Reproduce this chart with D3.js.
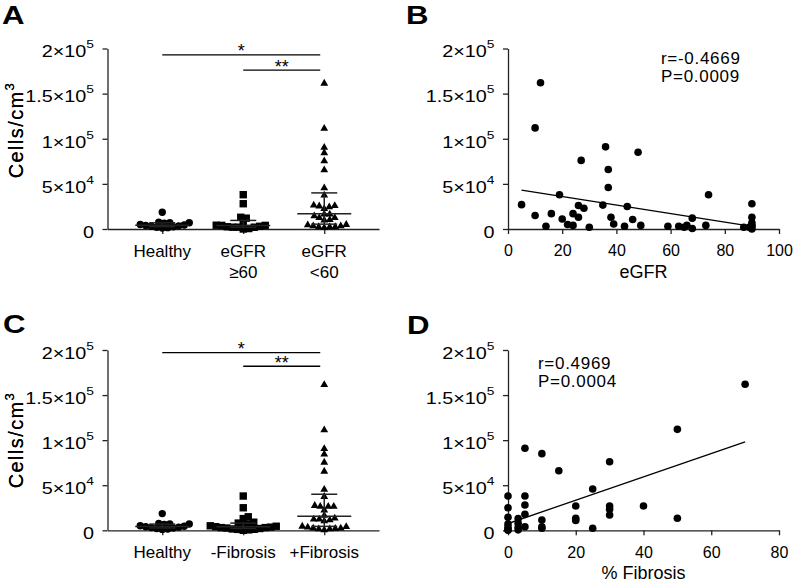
<!DOCTYPE html>
<html><head><meta charset="utf-8">
<script src="https://cdn.jsdelivr.net/npm/d3@7"></script>
<style>
html,body{margin:0;padding:0;background:#fff;}
svg{display:block;font-family:"Liberation Sans",Arial,Helvetica,sans-serif;}
</style></head><body>
<svg id="chart" width="796" height="585"></svg>
<script>
// ---------- DATA ----------
const yTickValues = [0, 50000, 100000, 150000, 200000];
const yTickMant = ["0", "5×10", "1×10", "1.5×10", "2×10"];
const yTickExp = ["", "4", "5", "5", "5"];

const catsA = ["Healthy", "eGFR ≥60", "eGFR <60"];
const catLinesA = [["Healthy"], ["eGFR", "≥60"], ["eGFR", "<60"]];
const catsC = ["Healthy", "-Fibrosis", "+Fibrosis"];
const catLinesC = [["Healthy"], ["-Fibrosis"], ["+Fibrosis"]];

const healthy = [18500, 7500, 7000, 7000, 6500, 5000, 4500, 4000, 3500, 3000, 2500, 2000, 1500, 1000];

// Panel B: eGFR vs cells/cm3
const bEgfr  = [5, 10, 10, 12, 14, 16, 19, 20, 22, 24, 24, 26, 26, 27, 28, 30, 35, 36, 37, 37, 38, 39, 43, 44, 46, 48, 49, 59,
                63, 65, 66, 68, 68, 73, 74, 87, 89, 90, 90, 90, 90, 90, 90];
const bCells = [27000, 15000, 112000, 162000, 3000, 17000, 38000, 11000, 5000, 17000, 4000, 26000, 13000, 76000, 23000, 2000,
                26500, 91000, 66000, 46000, 13000, 5500, 3000, 25000, 10500, 85000, 4000, 3000,
                3000, 2000, 4200, 12000, 500, 4000, 38000, 2000, 2000, 28000, 13000, 7000, 4000, 2500, 0];
const bStats = ["r=-0.4669", "P=0.0009"];
const bFitX = [5, 90];
const bFitY = [43000, 3000];

// Panel C groups
const minusFib = [38000, 25000, 15000, 13000, 9000, 8000, 7000, 6000, 5000, 4500, 4000, 3500, 3000, 3000, 2500, 2000, 1500, 1000, 1000, 500, 0];
const plusFib = [162000, 112000, 91000, 85000, 76000, 66000, 46000, 38000, 28000, 27000, 27000, 27000, 23000, 17000, 14000,
                 13000, 13000, 12000, 11000, 5000, 4500, 4000, 3000, 3000, 2500, 2000, 2000, 1000];

// Panel D: % fibrosis vs cells/cm3
const dFib   = [0, 0, 0, 0, 0, 0, 0, 3, 3, 3, 3, 5, 5, 5, 5, 5, 10, 10, 10, 10, 15, 20, 20, 20, 25, 25, 30, 30, 30, 30, 40, 50, 50, 70];
const dCells = [38000, 25000, 14500, 7000, 3500, 1000, 0, 13000, 7700, 3300, 500, 91000, 38000, 28000, 17700, 4000,
                85000, 11400, 4000, 2200, 66000, 27000, 13300, 11000, 45800, 2200, 76000, 27000, 23300, 17000, 27000, 112000, 13300, 162000];
const dStats = ["r=0.4969", "P=0.0004"];
const dFitX = [0, 70];
const dFitY = [7500, 98000];

const sigA = [{from: 0, to: 2, y: 193000, label: "*"}, {from: 1, to: 2, y: 176000, label: "**"}];
const sigC = [{from: 0, to: 2, y: 197000, label: "*"}, {from: 1, to: 2, y: 182000, label: "**"}];

// ---------- DRAWING ----------
const svg = d3.select("#chart");
svg.append("rect").attr("width", 796).attr("height", 585).attr("fill", "#fff");
const INK = "#000";
const AX = "#222";
const FONT = '"Liberation Sans", Arial, Helvetica, sans-serif';

const P = {
  A: {left: 107.5, right: 379, top: 48.5, bottom: 229, titleY: 130},
  B: {left: 508, right: 779, top: 48.5, bottom: 229, titleY: 130},
  C: {left: 107.5, right: 379, top: 350, bottom: 530.3, titleY: 440},
  D: {left: 508, right: 779, top: 350, bottom: 530.3, titleY: 440}
};

function panelLetter(txt, x, y) {
  svg.append("text").attr("transform", `translate(${x},${y}) scale(1.2,1)`)
    .attr("font-size", 26).attr("font-weight", "bold").attr("fill", INK).text(txt);
}

function yAxis(p) {
  const y = d3.scaleLinear().domain([0, 200000]).range([p.bottom, p.top]);
  const g = svg.append("g").attr("transform", `translate(${p.left},0)`)
    .call(d3.axisLeft(y).tickValues(yTickValues).tickSize(5).tickSizeOuter(0).tickPadding(8).tickFormat(""));
  g.attr("font-family", FONT).attr("font-size", null);
  g.select(".domain").attr("stroke", AX).attr("stroke-width", 1.3);
  g.selectAll(".tick line").attr("stroke", AX).attr("stroke-width", 1.3);
  g.selectAll(".tick").each(function(d, i) {
    const t = d3.select(this).select("text");
    t.attr("x", null).attr("dy", "0.5em").attr("font-size", 16.5).attr("fill", INK)
      .attr("transform", "translate(-13.5,0) scale(1.2,1)");
    t.append("tspan").text(yTickMant[i]);
    if (yTickExp[i]) t.append("tspan").attr("dy", -9).attr("font-size", 11.5).text(yTickExp[i]);
  });
  // y title
  const tt = svg.append("text").attr("transform", `translate(23,${p.titleY}) rotate(-90)`)
    .attr("text-anchor", "middle").attr("font-size", 20).attr("letter-spacing", 1.4).attr("fill", INK);
  tt.append("tspan").text("Cells/cm");
  tt.append("tspan").attr("dy", -9).attr("font-size", 13).text("3");
  return y;
}

function markerPath(shape, x, y) {
  if (shape === "circle") { const r = 3.7; return `M${x - r},${y}a${r},${r} 0 1,0 ${2 * r},0a${r},${r} 0 1,0 ${-2 * r},0Z`; }
  if (shape === "square") { const s = 3.7; return `M${x - s},${y - s}h${2 * s}v${2 * s}h${-2 * s}Z`; }
  const w = 7.8, h = 6.8;
  return `M${x},${y - h * 0.58}L${x + w / 2},${y + h * 0.42}L${x - w / 2},${y + h * 0.42}Z`;
}

function swarm(values, cx, y, d) {
  const pts = values.map(v => ({v, py: y(v)})).sort((a, b) => b.py - a.py);
  const placed = [];
  for (const p of pts) {
    let px = cx;
    for (let k = 0; k < 400; k++) {
      const off = k === 0 ? 0 : (k % 2 ? 1 : -1) * Math.ceil(k / 2) * 0.5;
      const x = cx + off;
      if (placed.every(q => (q.px - x) ** 2 + (q.py - p.py) ** 2 >= d * d)) { px = x; break; }
    }
    p.px = px; placed.push(p);
  }
  return pts;
}

function dotPanel(p, cats, catLines, groups, shapes, sig) {
  const y = yAxis(p);
  const x = d3.scalePoint().domain(cats).range([p.left, p.right]).padding(0.676);
  const xa = svg.append("g").attr("transform", `translate(0,${p.bottom})`)
    .call(d3.axisBottom(x).tickSize(5).tickSizeOuter(0).tickFormat(""));
  xa.select(".domain").attr("stroke", AX).attr("stroke-width", 1.3);
  xa.selectAll(".tick line").attr("stroke", AX).attr("stroke-width", 1.3);
  cats.forEach((c, i) => {
    const t = svg.append("text").attr("text-anchor", "middle").attr("font-size", 17).attr("fill", INK);
    catLines[i].forEach((ln, j) => t.append("tspan").attr("x", x(c)).attr("y", p.bottom + 28 + j * 21).text(ln));
  });
  groups.forEach((vals, i) => {
    const cx = x(cats[i]);
    const pts = swarm(vals, cx, y, 5.3);
    svg.append("g").selectAll("path").data(pts).join("path")
      .attr("d", d => markerPath(shapes[i], d.px, d.py)).attr("fill", INK);
    const s = vals.slice().sort(d3.ascending);
    const q1 = d3.quantile(s, 0.25), med = d3.quantile(s, 0.5), q3 = d3.quantile(s, 0.75);
    const g = svg.append("g").attr("stroke", "#222").attr("stroke-width", 1.5);
    g.append("line").attr("x1", cx).attr("x2", cx).attr("y1", y(q1)).attr("y2", y(q3));
    g.append("line").attr("x1", cx - 13).attr("x2", cx + 13).attr("y1", y(q1)).attr("y2", y(q1));
    g.append("line").attr("x1", cx - 13).attr("x2", cx + 13).attr("y1", y(q3)).attr("y2", y(q3));
    g.append("line").attr("x1", cx - 27).attr("x2", cx + 27).attr("y1", y(med)).attr("y2", y(med));
  });
  sig.forEach(s => {
    const x1 = x(cats[s.from]), x2 = x(cats[s.to]) - 4;
    svg.append("line").attr("x1", x1).attr("x2", x2).attr("y1", y(s.y)).attr("y2", y(s.y))
      .attr("stroke", INK).attr("stroke-width", 1.3);
    svg.append("text").attr("x", (x1 + x2) / 2).attr("y", y(s.y) + 2.5).attr("text-anchor", "middle")
      .attr("font-size", 18).attr("fill", INK).text(s.label);
  });
}

function scatterPanel(p, xs, ys, xMax, xTicks, xTitle, fitX, fitY, stats, statX, statY) {
  const y = yAxis(p);
  const x = d3.scaleLinear().domain([0, xMax]).range([p.left, p.right]);
  const xa = svg.append("g").attr("transform", `translate(0,${p.bottom})`)
    .call(d3.axisBottom(x).tickValues(xTicks).tickSize(5).tickSizeOuter(0).tickPadding(11).tickFormat(d3.format("d")));
  xa.attr("font-family", FONT).attr("font-size", null);
  xa.select(".domain").attr("stroke", AX).attr("stroke-width", 1.3);
  xa.selectAll(".tick line").attr("stroke", AX).attr("stroke-width", 1.3);
  xa.selectAll(".tick text").attr("font-size", 16).attr("fill", INK);
  svg.append("text").attr("x", (p.left + p.right) / 2).attr("y", p.bottom + 49).attr("text-anchor", "middle")
    .attr("font-size", 18).attr("fill", INK).text(xTitle);
  svg.append("g").selectAll("circle").data(xs).join("circle")
    .attr("cx", d => x(d)).attr("cy", (d, i) => y(ys[i])).attr("r", 3.8).attr("fill", INK);
  svg.append("line").attr("x1", x(fitX[0])).attr("x2", x(fitX[1])).attr("y1", y(fitY[0])).attr("y2", y(fitY[1]))
    .attr("stroke", INK).attr("stroke-width", 1.3);
  stats.forEach((s, i) => svg.append("text").attr("x", statX).attr("y", statY + i * 18.5)
    .attr("font-size", 17).attr("letter-spacing", 0.7).attr("fill", INK).text(s));
}

dotPanel(P.A, catsA, catLinesA,
  [healthy, bCells.filter((v, i) => bEgfr[i] >= 60), bCells.filter((v, i) => bEgfr[i] < 60)],
  ["circle", "square", "triangle"], sigA);
scatterPanel(P.B, bEgfr, bCells, 100, [0, 20, 40, 60, 80, 100], "eGFR", bFitX, bFitY, bStats, 661, 63.5);
dotPanel(P.C, catsC, catLinesC, [healthy, minusFib, plusFib], ["circle", "square", "triangle"], sigC);
scatterPanel(P.D, dFib, dCells, 80, [0, 20, 40, 60, 80], "% Fibrosis", dFitX, dFitY, dStats, 538, 368.5);

panelLetter("A", 2, 23.5);
panelLetter("B", 406, 23.5);
panelLetter("C", 3, 333);
panelLetter("D", 407, 334);
</script>
</body></html>
